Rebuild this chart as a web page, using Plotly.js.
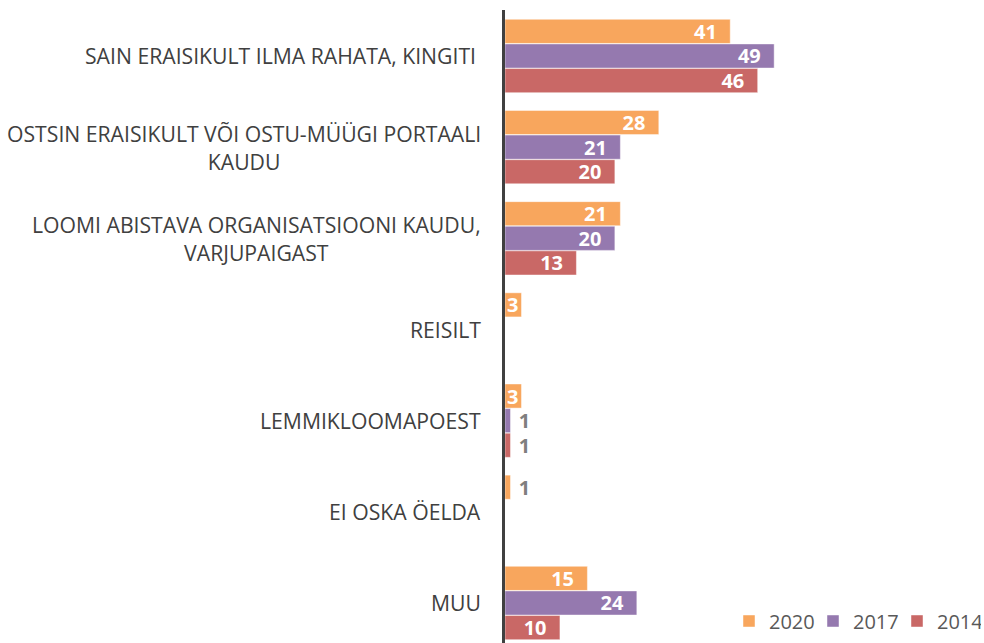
<!DOCTYPE html>
<html>
<head>
<meta charset="utf-8">
<script src="https://cdn.plot.ly/plotly-3.0.1.min.js"></script>
<style>html,body{margin:0;padding:0;background:#fff;}#chart{width:984px;height:643px;}</style>
</head>
<body>
<div id="chart"></div>
<script>
const categories = [
  "SAIN ERAISIKULT ILMA RAHATA, KINGITI\u00a0",
  "OSTSIN ERAISIKULT VÕI OSTU-MÜÜGI PORTAALI<br>KAUDU",
  "LOOMI ABISTAVA ORGANISATSIOONI KAUDU,<br>VARJUPAIGAST",
  "REISILT",
  "LEMMIKLOOMAPOEST",
  "EI OSKA ÖELDA",
  "MUU"
];
const seriesNames = ["2020", "2017", "2014"];
const values2020 = [41, 28, 21, 3, 3, 1, 15];
const values2017 = [49, 21, 20, null, 1, null, 24];
const values2014 = [46, 20, 13, null, 1, null, 10];
const colors = ["#F8A65D", "#9579AF", "#C96866"];

const FONT = "Open Sans, Liberation Sans, sans-serif";

function labelText(v) {
  if (v == null) return "";
  if (v <= 1) return "\u00a0" + v;
  if (v >= 10) return v + "\u00a0\u00a0";
  return String(v);
}
function labelPos(v) {
  return (v != null && v <= 1) ? "outside" : "inside";
}

const allValues = [values2020, values2017, values2014];
const traces = allValues.map((vals, i) => ({
  type: "bar",
  orientation: "h",
  name: seriesNames[i],
  x: vals,
  y: categories.map((c, k) => k),
  marker: { color: colors[i], line: { color: "rgba(255,255,255,0.45)", width: 1 } },
  text: vals.map(labelText),
  textposition: vals.map(labelPos),
  insidetextanchor: "end",
  constraintext: "none",
  cliponaxis: false,
  insidetextfont: { family: FONT, size: 20, color: "#ffffff", weight: 700 },
  outsidetextfont: { family: FONT, size: 20, color: "#7f7f7f", weight: 700 },
  hoverinfo: "skip"
}));

const annotations = categories.map((c, k) => ({
  xref: "paper", yref: "y",
  x: -22 / 479, y: k,
  xanchor: "right", yanchor: "middle",
  align: "center",
  text: c,
  showarrow: false,
  font: { family: FONT, size: 21.2, color: "#404040" }
}));

const layout = {
  width: 984, height: 643,
  margin: { l: 505, r: 0, t: 10, b: 0, pad: 0 },
  paper_bgcolor: "#ffffff",
  plot_bgcolor: "#ffffff",
  barmode: "group",
  bargap: 0.19,
  bargroupgap: 0.02,
  showlegend: true,
  legend: {
    orientation: "h",
    x: (729 - 505) / 479, xanchor: "left",
    y: 22 / 633, yanchor: "middle",
    font: { family: FONT, size: 20, color: "#595959" },
    bgcolor: "rgba(0,0,0,0)",
    traceorder: "normal",
    entrywidth: 39,
    entrywidthmode: "pixels"
  },
  xaxis: {
    range: [0, 87.2],
    visible: false,
    showgrid: false, zeroline: false, fixedrange: true
  },
  yaxis: {
    type: "linear",
    range: [6.439, -0.5045],
    showticklabels: false,
    showgrid: false, zeroline: false,
    showline: true, linecolor: "#404040", linewidth: 3,
    ticks: "", fixedrange: true
  },
  annotations: annotations,
  font: { family: FONT }
};

Plotly.newPlot("chart", traces, layout, { displayModeBar: false, staticPlot: true });
</script>
</body>
</html>
